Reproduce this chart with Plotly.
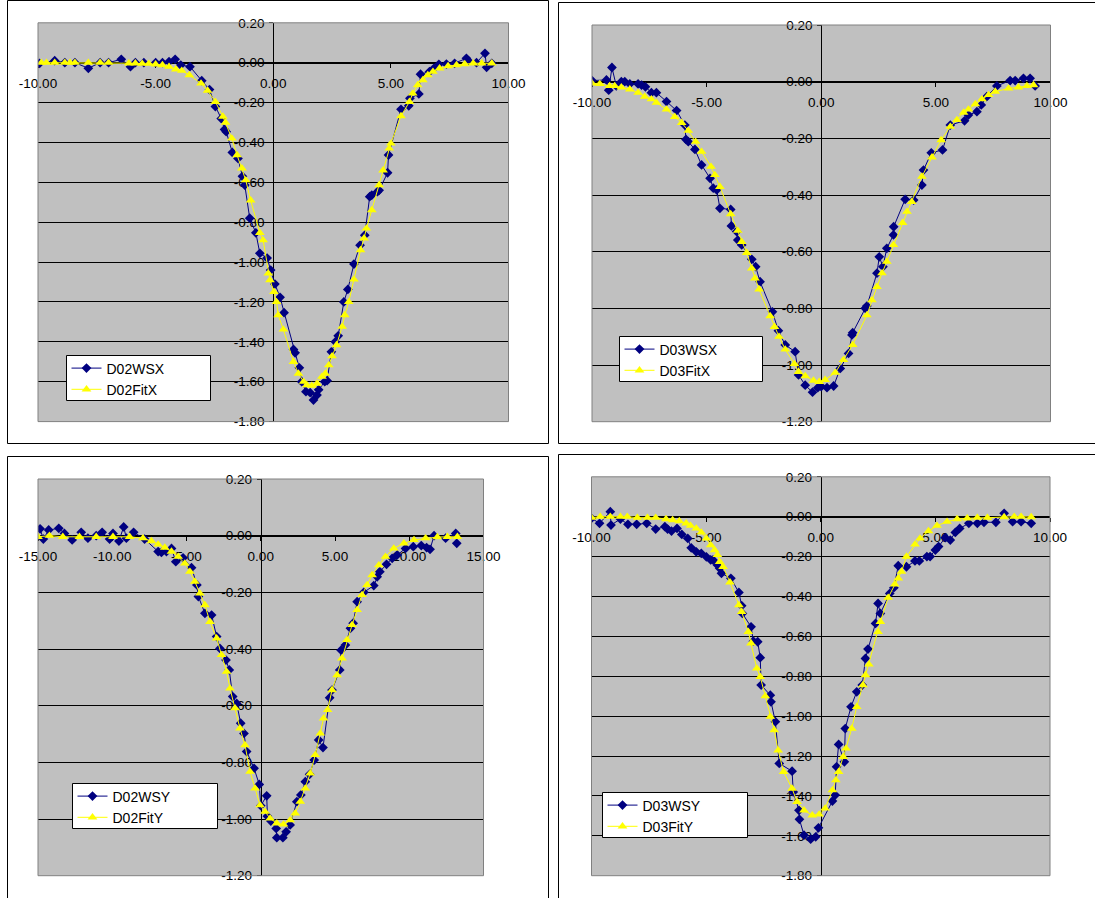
import plotly.graph_objects as go

W, H = 1095, 898

# ---------------- Panel 1 : D02 X ----------------
d02wsx_x = [-9.93, -9.29, -8.86, -8.43, -7.86, -7.36, -7.0, -6.46, -6.07, -5.86,
            -5.5, -5.0, -4.71, -4.43, -4.17, -3.93, -3.54, -3.04, -2.71, -2.46,
            -2.21, -2.07, -2.0, -1.74, -1.5, -1.31, -1.21, -1.0, -0.74, -0.57,
            -0.26, -0.11, 0.07, 0.29, 0.46, 0.86, 0.93, 1.11, 1.21, 1.39,
            1.57, 1.71, 1.86, 1.93, 2.19, 2.29, 2.47, 2.64, 2.76, 3.0,
            3.17, 3.43, 3.69, 3.89, 4.1, 4.19, 4.43, 4.5, 4.86, 4.9,
            5.43, 5.76, 5.81, 6.19, 6.26, 6.64, 6.83, 7.04, 7.36, 7.71,
            8.21, 8.29, 8.64, 9.0, 9.07, 9.29]
d02wsx_y = [-0.003, 0.01, 0.0, 0.0, -0.028, 0.0, 0.0, 0.017, -0.02, 0.0,
            0.0, 0.0, 0.0, 0.005, 0.017, -0.012, -0.02, -0.09, -0.135, -0.22,
            -0.28, -0.335, -0.346, -0.45, -0.48, -0.57, -0.614, -0.78, -0.853, -0.956,
            -0.98, -1.04, -1.11, -1.177, -1.254, -1.438, -1.455, -1.53, -1.60, -1.65,
            -1.655, -1.692, -1.667, -1.64, -1.60, -1.595, -1.45, -1.40, -1.37, -1.20,
            -1.137, -1.01, -0.915, -0.865, -0.672, -0.664, -0.647, -0.64, -0.552, -0.463,
            -0.234, -0.216, -0.179, -0.157, -0.058, -0.045, -0.028, -0.008, -0.007, -0.003,
            0.022, 0.01, 0.0, 0.047, -0.023, -0.003]
d02fitx_x = [-9.86, -9.64, -9.29, -8.86, -8.64, -8.43, -7.86, -7.36, -7.0, -6.14,
             -5.86, -5.57, -5.29, -5.0, -4.71, -4.43, -4.14, -3.89, -3.57, -3.07,
             -2.79, -2.46, -2.14, -2.03, -1.76, -1.54, -1.33, -1.17, -0.96, -0.57,
             -0.43, -0.21, -0.14, 0.03, 0.14, 0.21, 0.43, 0.86, 1.07, 1.29,
             1.43, 1.64, 1.86, 2.07, 2.21, 2.36, 2.5, 2.69, 2.93, 3.04,
             3.21, 3.43, 3.71, 3.86, 3.96, 4.19, 4.5, 4.67, 4.93, 5.0,
             5.43, 5.79, 5.93, 6.14, 6.36, 6.57, 6.79, 7.07, 7.43, 7.79,
             8.14, 8.5, 8.86, 9.29]
d02fitx_y = [0.0, 0.0, 0.0, 0.0, 0.0, 0.0, 0.0, 0.0, 0.0, -0.003,
             -0.003, -0.005, -0.005, -0.008, -0.012, -0.02, -0.033, -0.04, -0.062, -0.104,
             -0.14, -0.196, -0.27, -0.30, -0.38, -0.463, -0.53, -0.589, -0.69, -0.853,
             -0.89, -1.057, -1.09, -1.149, -1.2, -1.266, -1.338, -1.5, -1.559, -1.6,
             -1.617, -1.62, -1.609, -1.575, -1.559, -1.517, -1.472, -1.416, -1.324, -1.266,
             -1.2, -1.087, -0.94, -0.881, -0.831, -0.739, -0.614, -0.54, -0.43, -0.405,
             -0.268, -0.196, -0.154, -0.112, -0.087, -0.062, -0.045, -0.028, -0.017, -0.012,
             -0.007, -0.003, -0.003, -0.003]

# ---------------- Panel 2 : D03 X ----------------
d03wsx_x = [-10.0, -9.37, -9.27, -9.13, -8.94, -8.72, -8.57, -8.35, -7.99, -7.84,
            -7.67, -7.41, -7.19, -6.75, -6.31, -5.95, -5.90, -5.80, -5.51, -5.22,
            -4.85, -4.71, -4.56, -4.42, -3.95, -3.92, -3.69, -3.64, -3.47, -3.03,
            -2.86, -2.67, -2.13, -1.87, -1.57, -1.14, -0.99, -0.70, -0.38, -0.15,
            0.0, 0.25, 0.54, 0.83, 1.19, 1.34, 1.37, 1.92, 1.99, 2.43,
            2.53, 2.69, 2.86, 3.15, 3.16, 3.66, 4.03, 4.39, 4.46, 4.80,
            5.29, 5.63, 6.25, 6.42, 6.79, 6.98, 7.22, 7.66, 8.24, 8.46,
            8.82, 9.11, 9.33]
d03wsx_y = [0.004, 0.006, -0.03, 0.05, -0.015, 0.0, 0.0, -0.008, -0.008, -0.012,
            -0.018, -0.039, -0.039, -0.07, -0.102, -0.153, -0.204, -0.212, -0.239, -0.294,
            -0.341, -0.376, -0.382, -0.447, -0.451, -0.509, -0.529, -0.559, -0.576, -0.627,
            -0.653, -0.706, -0.812, -0.879, -0.929, -0.953, -1.035, -1.071, -1.096, -1.08,
            -1.076, -1.08, -1.074, -1.012, -0.959, -0.894, -0.886, -0.80, -0.792, -0.676,
            -0.618, -0.653, -0.588, -0.541, -0.512, -0.415, -0.418, -0.365, -0.312, -0.251,
            -0.241, -0.153, -0.138, -0.118, -0.106, -0.082, -0.053, -0.015, 0.004, 0.004,
            0.012, 0.012, -0.015]
d03fitx_x = [-10.0, -9.66, -9.23, -9.01, -8.72, -8.35, -7.99, -7.70, -7.41, -7.19,
             -6.75, -6.39, -6.09, -5.80, -5.48, -5.22, -4.81, -4.64, -4.42, -3.95,
             -3.64, -3.47, -3.25, -3.03, -2.89, -2.71, -2.23, -2.04, -1.84, -1.57,
             -1.17, -0.99, -0.70, -0.34, -0.09, 0.17, 0.61, 0.97, 1.37, 1.99,
             2.21, 2.43, 2.65, 2.86, 3.15, 3.55, 3.74, 3.95, 4.39, 4.83,
             5.23, 5.63, 5.92, 6.21, 6.42, 6.72, 7.01, 7.30, 7.59, 8.17,
             8.60, 8.97, 9.26]
d03fitx_y = [-0.006, -0.008, -0.015, -0.015, -0.02, -0.027, -0.039, -0.053, -0.062, -0.074,
             -0.098, -0.124, -0.145, -0.173, -0.212, -0.247, -0.30, -0.329, -0.371, -0.467,
             -0.526, -0.565, -0.604, -0.659, -0.694, -0.733, -0.827, -0.865, -0.90, -0.945,
             -0.996, -1.024, -1.039, -1.055, -1.059, -1.052, -1.027, -0.982, -0.929, -0.824,
             -0.771, -0.724, -0.676, -0.635, -0.576, -0.498, -0.459, -0.424, -0.335, -0.267,
             -0.206, -0.159, -0.135, -0.109, -0.098, -0.079, -0.062, -0.047, -0.035, -0.024,
             -0.02, -0.015, -0.012]

# ---------------- Panel 3 : D02 Y ----------------
d02wsy_x = [-14.86, -14.64, -14.28, -13.60, -13.22, -12.70, -12.09, -11.64, -11.08, -10.68,
            -10.18, -9.95, -9.55, -9.23, -9.05, -8.56, -7.82, -6.91, -6.69, -6.35,
            -6.01, -5.72, -5.23, -4.66, -4.30, -4.20, -3.76, -3.31, -2.97, -2.75,
            -2.34, -2.12, -1.89, -1.62, -1.35, -1.13, -0.95, -0.45, -0.10, 0.0,
            0.40, 0.45, 0.68, 1.04, 1.08, 1.49, 1.71, 1.98, 2.43, 2.70,
            3.0, 3.29, 3.60, 3.90, 4.19, 4.64, 4.80, 5.32, 5.41, 5.70,
            6.04, 6.22, 6.49, 6.94, 7.61, 7.84, 8.02, 8.47, 8.85, 9.19,
            9.75, 10.27, 10.81, 11.17, 11.40, 11.67, 12.45, 13.13, 13.2]
d02wsy_y = [0.024, -0.012, 0.02, 0.026, 0.008, -0.015, 0.012, -0.009, 0.0, 0.012,
            -0.012, 0.008, -0.019, 0.031, -0.009, 0.012, -0.012, -0.056, -0.059, -0.056,
            -0.045, -0.092, -0.078, -0.113, -0.174, -0.215, -0.274, -0.28, -0.356, -0.398,
            -0.439, -0.474, -0.568, -0.592, -0.662, -0.698, -0.762, -0.821, -0.878, -0.953,
            -0.918, -0.99, -1.007, -1.033, -1.066, -1.066, -1.045, -1.021, -0.939, -0.915,
            -0.868, -0.842, -0.792, -0.721, -0.748, -0.572, -0.545, -0.474, -0.404, -0.386,
            -0.327, -0.309, -0.233, -0.20, -0.176, -0.145, -0.127, -0.101, -0.08, -0.068,
            -0.045, -0.039, -0.035, -0.042, -0.048, 0.0, -0.009, 0.008, -0.027]
d02fity_x = [-15.0, -14.23, -13.33, -12.21, -11.08, -9.95, -8.83, -7.93, -7.36, -6.91,
             -6.46, -6.01, -5.56, -5.11, -4.77, -4.44, -4.10, -3.76, -3.42, -2.97,
             -2.64, -2.30, -2.07, -1.73, -1.40, -1.06, -0.72, -0.38, -0.05, 0.29,
             0.63, 1.08, 1.53, 1.98, 2.32, 2.66, 3.0, 3.33, 3.67, 4.01,
             4.23, 4.50, 4.80, 5.14, 5.47, 5.81, 6.15, 6.49, 6.82, 7.16,
             7.50, 7.95, 8.40, 8.96, 9.64, 10.32, 11.10, 11.89, 12.57, 13.24]
d02fity_y = [-0.004, 0.0, -0.004, -0.004, -0.004, -0.004, -0.004, -0.009, -0.019, -0.031,
             -0.042, -0.056, -0.074, -0.098, -0.127, -0.162, -0.204, -0.245, -0.304, -0.362,
             -0.421, -0.48, -0.539, -0.609, -0.68, -0.739, -0.833, -0.892, -0.951, -0.974,
             -0.998, -1.015, -1.019, -1.004, -0.98, -0.939, -0.892, -0.839, -0.774, -0.698,
             -0.645, -0.615, -0.545, -0.492, -0.433, -0.368, -0.315, -0.262, -0.209, -0.174,
             -0.139, -0.104, -0.074, -0.045, -0.027, -0.015, -0.009, -0.005, -0.004, -0.004]

# ---------------- Panel 4 : D03 Y ----------------
d03wsy_x = [-10.0, -9.65, -9.18, -9.15, -8.74, -8.41, -8.03, -7.59, -7.20, -6.80,
            -6.68, -6.51, -6.27, -6.06, -5.80, -5.65, -5.43, -5.21, -4.99, -4.80,
            -4.70, -4.51, -4.41, -4.33, -3.92, -3.57, -3.45, -3.42, -3.04, -2.94,
            -2.75, -2.64, -2.60, -2.20, -2.17, -1.98, -1.81, -1.25, -1.20, -0.95,
            -0.93, -0.73, -0.44, -0.22, -0.10, 0.51, 0.63, 0.69, 0.78, 1.03,
            1.07, 1.32, 1.57, 1.81, 1.95, 2.06, 2.39, 2.50, 2.60, 3.01,
            3.19, 3.38, 3.74, 4.11, 4.30, 4.63, 4.77, 5.0, 5.14, 5.43,
            5.65, 5.87, 6.06, 6.46, 6.83, 7.12, 7.64, 8.0, 8.37, 8.74, 9.18]
d03wsy_y = [-0.008, -0.033, 0.025, -0.042, -0.012, -0.038, -0.038, -0.033, -0.062, -0.05,
            -0.062, -0.072, -0.059, -0.089, -0.109, -0.156, -0.176, -0.184, -0.201, -0.217,
            -0.217, -0.242, -0.259, -0.284, -0.309, -0.38, -0.446, -0.485, -0.552, -0.624,
            -0.627, -0.707, -0.844, -0.895, -0.928, -1.028, -1.237, -1.276, -1.38, -1.472,
            -1.517, -1.597, -1.617, -1.605, -1.56, -1.426, -1.396, -1.254, -1.142, -1.229,
            -1.062, -0.953, -0.878, -0.844, -0.711, -0.664, -0.535, -0.435, -0.485, -0.385,
            -0.356, -0.246, -0.251, -0.222, -0.222, -0.20, -0.20, -0.167, -0.15, -0.105,
            -0.117, -0.079, -0.059, -0.033, -0.033, -0.028, -0.028, 0.017, -0.025, -0.025, -0.033]
d03fity_x = [-10.0, -9.62, -9.18, -8.74, -8.44, -8.00, -7.56, -7.20, -6.75, -6.46,
             -6.17, -5.87, -5.68, -5.43, -5.21, -4.99, -4.80, -4.63, -4.51, -4.41,
             -4.26, -3.96, -3.57, -3.45, -3.16, -3.04, -2.79, -2.64, -2.42, -2.20,
             -2.03, -1.86, -1.62, -1.25, -1.03, -0.73, -0.37, -0.07, 0.19, 0.51,
             0.66, 0.78, 0.98, 1.10, 1.35, 1.57, 1.84, 1.95, 2.10, 2.50,
             2.60, 2.94, 3.23, 3.38, 3.52, 3.74, 4.11, 4.33, 4.70, 5.07,
             5.51, 5.95, 6.39, 6.83, 7.27, 8.0, 8.44, 8.74, 9.18]
d03fity_y = [-0.005, 0.0, 0.0, 0.0, 0.0, -0.005, -0.005, -0.005, -0.012, -0.017,
             -0.022, -0.033, -0.045, -0.059, -0.079, -0.109, -0.142, -0.167, -0.192, -0.226,
             -0.251, -0.329, -0.443, -0.477, -0.577, -0.635, -0.761, -0.803, -0.90, -1.003,
             -1.07, -1.171, -1.279, -1.363, -1.43, -1.472, -1.497, -1.493, -1.463, -1.371,
             -1.321, -1.279, -1.204, -1.162, -1.062, -0.953, -0.844, -0.794, -0.741, -0.577,
             -0.527, -0.406, -0.339, -0.309, -0.276, -0.20, -0.139, -0.109, -0.072, -0.045,
             -0.025, -0.012, -0.008, -0.005, -0.005, -0.002, 0.0, 0.0, -0.002]

# ---------------- tick values / labels ----------------
x_ticks_10 = [-10, -5, 0, 5, 10]
x_labels_10 = ["-10.00", "-5.00", "0.00", "5.00", "10.00"]
x_ticks_15 = [-15, -10, -5, 0, 5, 10, 15]
x_labels_15 = ["-15.00", "-10.00", "-5.00", "0.00", "5.00", "10.00", "15.00"]
y_ticks_18 = [0.2, 0.0, -0.2, -0.4, -0.6, -0.8, -1.0, -1.2, -1.4, -1.6, -1.8]
y_labels_18 = ["0.20", "0.00", "-0.20", "-0.40", "-0.60", "-0.80", "-1.00",
               "-1.20", "-1.40", "-1.60", "-1.80"]
y_ticks_12 = [0.2, 0.0, -0.2, -0.4, -0.6, -0.8, -1.0, -1.2]
y_labels_12 = ["0.20", "0.00", "-0.20", "-0.40", "-0.60", "-0.80", "-1.00", "-1.20"]

series_names = [("D02WSX", "D02FitX"), ("D03WSX", "D03FitX"),
                ("D02WSY", "D02FitY"), ("D03WSY", "D03FitY")]

panels = [
    dict(ws=(d02wsx_x, d02wsx_y), fit=(d02fitx_x, d02fitx_y), xr=[-10, 10], yr=[-1.8, 0.2],
         xt=(x_ticks_10, x_labels_10), yt=(y_ticks_18, y_labels_18),
         plot=(38.0, 22.8, 508.5, 421.6), frame=(7.5, 0.5, 548.5, 443.5),
         legbox=(66.5, 355.5, 210.5, 400.5)),
    dict(ws=(d03wsx_x, d03wsx_y), fit=(d03fitx_x, d03fitx_y), xr=[-10, 10], yr=[-1.2, 0.2],
         xt=(x_ticks_10, x_labels_10), yt=(y_ticks_12, y_labels_12),
         plot=(592.0, 25.0, 1050.5, 421.7), frame=(558.5, 2.5, 1100, 443.5),
         legbox=(619.5, 336.5, 762.5, 381.5)),
    dict(ws=(d02wsy_x, d02wsy_y), fit=(d02fity_x, d02fity_y), xr=[-15, 15], yr=[-1.2, 0.2],
         xt=(x_ticks_15, x_labels_15), yt=(y_ticks_12, y_labels_12),
         plot=(38.0, 479.0, 483.5, 875.7), frame=(7.5, 456.5, 548.5, 910),
         legbox=(72.5, 783.5, 217.5, 828.5)),
    dict(ws=(d03wsy_x, d03wsy_y), fit=(d03fity_x, d03fity_y), xr=[-10, 10], yr=[-1.8, 0.2],
         xt=(x_ticks_10, x_labels_10), yt=(y_ticks_18, y_labels_18),
         plot=(591.5, 476.8, 1050.0, 875.7), frame=(558.5, 454.5, 1100, 910),
         legbox=(602.5, 792.5, 747.5, 837.5)),
]

FONT = "Liberation Sans, Arial, Helvetica, sans-serif"
NAVY = "#000080"
YELLOW = "#FFFF00"

fig = go.Figure()
layout = dict(width=W, height=H, margin=dict(l=0, r=0, t=0, b=0, pad=0, autoexpand=False),
              autosize=False, paper_bgcolor="white", plot_bgcolor="#C0C0C0",
              font=dict(family=FONT, size=13.5, color="black"), shapes=[])

for i, p in enumerate(panels, start=1):
    sfx = "" if i == 1 else str(i)
    L, T, R, B = p["plot"]
    xd = [L / W, R / W]
    yd = [1 - B / H, 1 - T / H]
    x0, x1 = p["xr"]
    y0, y1 = p["yr"]
    xpos = yd[0] + (0 - y0) / (y1 - y0) * (yd[1] - yd[0])
    ypos = xd[0] + (0 - x0) / (x1 - x0) * (xd[1] - xd[0])
    common = dict(showline=True, linecolor="black", linewidth=1, ticks="outside", ticklen=4,
                  tickcolor="black", tickwidth=1, zeroline=False, anchor="free",
                  layer="below traces", fixedrange=True, automargin=False,
                  tickfont=dict(family=FONT, size=13.5, color="black"))
    layout["xaxis" + sfx] = dict(domain=xd, range=p["xr"], position=xpos,
                                 tickvals=p["xt"][0], ticktext=p["xt"][1],
                                 showgrid=False, ticklabelstandoff=4, **common)
    layout["yaxis" + sfx] = dict(domain=yd, range=p["yr"], position=ypos,
                                 tickvals=p["yt"][0], ticktext=p["yt"][1],
                                 showgrid=True, gridcolor="black", gridwidth=1,
                                 ticklabelstandoff=2, **common)
    leg = "legend" + sfx
    ws_name, fit_name = series_names[i - 1]
    fig.add_trace(go.Scatter(x=p["ws"][0], y=p["ws"][1], mode="lines+markers", name=ws_name,
                             xaxis="x" + sfx, yaxis="y" + sfx, legend=leg,
                             line=dict(color=NAVY, width=1),
                             marker=dict(symbol="diamond", size=7.5, color=NAVY)))
    fig.add_trace(go.Scatter(x=p["fit"][0], y=p["fit"][1], mode="lines+markers", name=fit_name,
                             xaxis="x" + sfx, yaxis="y" + sfx, legend=leg,
                             line=dict(color=YELLOW, width=1),
                             marker=dict(symbol="triangle-up", size=8.5, color=YELLOW)))
    # panel frame
    fL, fT, fR, fB = p["frame"]
    layout["shapes"].append(dict(type="rect", xref="paper", yref="paper",
                                 x0=fL / W, x1=fR / W, y0=1 - fB / H, y1=1 - fT / H,
                                 line=dict(color="black", width=1), fillcolor="rgba(0,0,0,0)",
                                 layer="below"))
    # plot area border
    layout["shapes"].append(dict(type="rect", xref="x" + sfx + " domain", yref="y" + sfx + " domain",
                                 x0=0, x1=1, y0=0, y1=1,
                                 line=dict(color="#808080", width=1), fillcolor="rgba(0,0,0,0)",
                                 layer="above"))
    # legend box
    bL, bT, bR, bB = p["legbox"]
    layout["shapes"].append(dict(type="rect", xref="paper", yref="paper",
                                 x0=bL / W, x1=bR / W, y0=1 - bB / H, y1=1 - bT / H,
                                 line=dict(color="black", width=1), fillcolor="white",
                                 layer="above"))
    layout[leg] = dict(x=bL / W, y=1 - (bT - 3.0) / H, xanchor="left", yanchor="top",
                       bgcolor="rgba(0,0,0,0)", borderwidth=0, traceorder="normal",
                       font=dict(family=FONT, size=14, color="black"))

fig.update_layout(**layout)
fig.write_html("out.html")
